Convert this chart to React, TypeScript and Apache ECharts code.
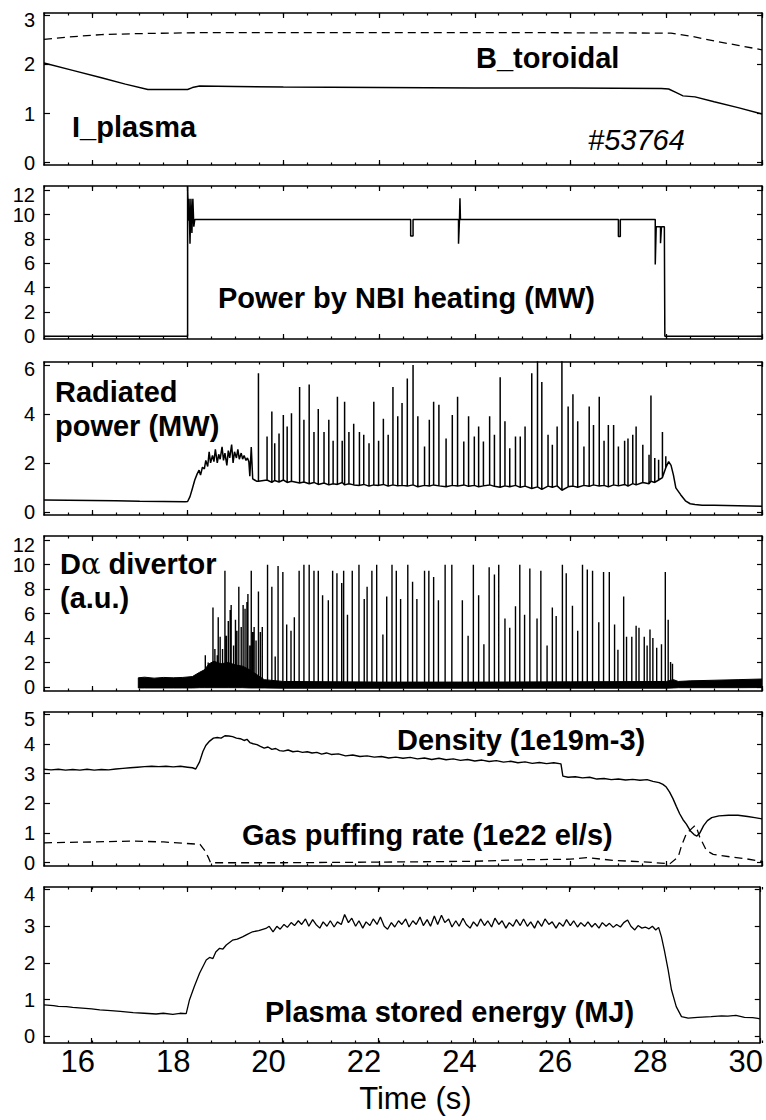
import { useEffect, useRef } from 'react';
import * as echarts from 'echarts';

type Pt = [number, number];

const FONT = '"Liberation Sans", Arial, Helvetica, sans-serif';
const T_MIN = 15;
const T_MAX = 30;
const timeTicks = [16, 18, 20, 22, 24, 26, 28, 30];

// ---- panel 1: plasma current and toroidal field ----
const plasmaCurrent: Pt[] = [
  [15.0, 2.03], [15.6, 1.88], [16.2, 1.73], [16.7, 1.6], [17.17, 1.49], [18.0, 1.49],
  [18.1, 1.53], [18.25, 1.56], [19.0, 1.55], [20.0, 1.54], [22.0, 1.53], [24.0, 1.52],
  [26.0, 1.52], [27.9, 1.51], [28.05, 1.5], [28.2, 1.43], [28.35, 1.36], [28.6, 1.34],
  [29.0, 1.24], [29.5, 1.12], [30.0, 0.99],
];
const toroidalField: Pt[] = [
  [15.0, 2.51], [15.5, 2.56], [16.2, 2.61], [17.0, 2.63], [18.3, 2.65], [20.0, 2.65],
  [25.0, 2.65], [28.1, 2.64], [28.5, 2.58], [29.0, 2.48], [29.5, 2.39], [30.0, 2.3],
];

// ---- panel 2: NBI heating power ----
const nbiPower: Pt[] = [
  [15.0, 0], [18.0, 0], [18.0, 12.3], [18.02, 9.5], [18.03, 11.3], [18.05, 7.6],
  [18.07, 11.3], [18.09, 8.5], [18.11, 11.3], [18.13, 9.0], [18.15, 9.6], [22.66, 9.6],
  [22.66, 8.25], [22.71, 8.25], [22.71, 9.6], [23.66, 9.6], [23.66, 7.6], [23.68, 9.6],
  [23.69, 11.35], [23.7, 9.6], [27.0, 9.6], [27.0, 8.2], [27.04, 8.2], [27.04, 9.6],
  [27.77, 9.6], [27.77, 5.9], [27.79, 9.0], [27.88, 9.0], [27.88, 7.65], [27.9, 9.0],
  [27.96, 9.0], [27.97, 0], [30.0, 0],
];

// ---- panel 3: radiated power ----
const radiatedBefore: Pt[] = [
  [15.0, 0.48], [15.5, 0.47], [16.0, 0.46], [16.5, 0.45], [17.0, 0.43], [17.5, 0.42],
  [17.95, 0.41], [18.0, 0.42], [18.05, 0.62], [18.1, 0.95], [18.15, 1.3], [18.2, 1.55],
  [18.24, 1.7], [18.27, 1.5], [18.31, 1.82], [18.35, 1.75], [18.38, 2.1], [18.42, 1.85],
  [18.45, 2.45], [18.48, 2.0], [18.52, 2.3], [18.55, 2.05], [18.58, 2.55], [18.62, 2.0],
  [18.65, 2.35], [18.68, 2.15], [18.72, 2.65], [18.75, 2.1], [18.78, 2.4], [18.82, 1.9],
  [18.85, 2.5], [18.88, 2.2], [18.92, 2.75], [18.95, 2.0], [18.98, 2.45], [19.02, 2.2],
  [19.05, 2.55], [19.08, 2.15], [19.12, 2.4], [19.15, 2.15], [19.18, 2.3], [19.22, 2.1],
  [19.25, 2.2], [19.28, 2.05], [19.3, 1.45], [19.33, 2.65], [19.36, 1.35], [19.4, 1.3],
  [19.44, 1.25],
];
const radiatedSpikeTimes = [
  19.48, 19.66, 19.76, 19.82, 19.91, 20.0, 20.08, 20.17, 20.34, 20.43,
  20.54, 20.64, 20.73, 20.85, 20.95, 21.04, 21.13, 21.23, 21.28, 21.37,
  21.47, 21.59, 21.68, 21.79, 21.89, 21.99, 22.09, 22.19, 22.29, 22.39,
  22.48, 22.59, 22.71, 22.81, 22.95, 23.05, 23.14, 23.25, 23.4, 23.53,
  23.64, 23.77, 23.87, 23.99, 24.08, 24.18, 24.31, 24.41, 24.53, 24.63,
  24.73, 24.85, 24.95, 25.05, 25.19, 25.31, 25.4, 25.53, 25.62, 25.72,
  25.82, 25.95, 26.05, 26.15, 26.28, 26.39, 26.48, 26.6, 26.7, 26.79,
  26.9, 27.0, 27.13, 27.2, 27.3, 27.37, 27.51, 27.64, 27.68, 27.76,
  27.84, 27.92, 27.99,
];
const radiatedSpikePeaks = [
  5.66, 3.08, 4.1, 2.8, 3.2, 3.96, 3.49, 4.03, 5.1, 3.76,
  5.2, 3.26, 4.2, 3.26, 3.76, 2.9, 4.7, 2.9, 4.5, 3.26,
  3.6, 3.26, 3.15, 2.8, 4.5, 2.9, 3.8, 3.15, 5.1, 3.9,
  4.45, 5.45, 6.0, 3.9, 2.67, 3.76, 4.5, 4.37, 3.0, 3.96,
  4.7, 2.87, 3.9, 3.08, 3.49, 2.87, 3.9, 3.15, 5.5, 3.7,
  2.6, 3.08, 3.08, 3.49, 5.66, 6.3, 5.3, 3.15, 2.74, 3.49,
  6.3, 4.3, 4.8, 3.7, 2.67, 4.3, 3.55, 4.7, 2.9, 3.55,
  3.55, 2.67, 2.9, 3.0, 3.15, 3.49, 2.74, 2.33, 4.75, 2.2,
  2.13, 3.26, 2.27,
];
const radiatedTroughs = [
  1.25, 1.3, 1.2, 1.28, 1.22, 1.3, 1.2, 1.25, 1.18, 1.22,
  1.15, 1.2, 1.12, 1.18, 1.1, 1.15, 1.12, 1.2, 1.1, 1.15,
  1.1, 1.08, 1.12, 1.05, 1.1, 1.08, 1.12, 1.05, 1.1, 1.06,
  1.08, 1.05, 1.1, 1.02, 1.08, 1.05, 1.1, 1.06, 1.02, 1.08,
  1.05, 1.1, 1.04, 1.08, 1.02, 1.06, 1.1, 1.04, 1.0, 1.06,
  1.02, 1.08, 1.0, 1.05, 0.95, 1.02, 0.92, 1.05, 1.0, 1.06,
  0.88, 1.02, 1.05, 1.0, 1.08, 1.04, 1.1, 1.05, 1.08, 1.02,
  1.1, 1.06, 1.12, 1.05, 1.15, 1.1, 1.2, 1.15, 1.25, 1.2,
  1.3, 1.4, 1.8,
];
const radiatedAfter: Pt[] = [
  [28.05, 2.05], [28.1, 1.9], [28.15, 1.5], [28.2, 0.98], [28.3, 0.7], [28.4, 0.45],
  [28.5, 0.33], [28.6, 0.3], [28.75, 0.27], [29.0, 0.27], [29.5, 0.25], [30.0, 0.23],
];

// ---- panel 4: D-alpha divertor ----
const dalphaBandTimes = [
  16.97, 17.1, 17.3, 17.5, 17.7, 17.9, 18.1, 18.25, 18.35, 18.45, 18.55, 18.7, 18.85,
  19.0, 19.15, 19.3, 19.45, 19.6, 20.0, 22.0, 24.0, 26.0, 28.0, 28.15, 28.25, 28.5,
  29.0, 29.5, 30.0,
];
const dalphaBandLow = [
  -0.08, -0.08, -0.08, -0.08, -0.08, -0.08, -0.08, -0.06, -0.06, -0.06, -0.06, -0.06, -0.06,
  -0.06, -0.06, -0.08, -0.08, -0.08, -0.1, -0.1, -0.1, -0.1, -0.1, -0.08, -0.06, -0.06,
  -0.06, -0.06, -0.05,
];
const dalphaBandHigh = [
  0.75, 0.8, 0.72, 0.78, 0.75, 0.78, 0.85, 1.2, 1.4, 1.9, 2.1, 1.9, 2.0,
  1.8, 1.7, 1.4, 1.0, 0.6, 0.45, 0.4, 0.4, 0.42, 0.45, 0.6, 0.45, 0.5,
  0.55, 0.6, 0.65,
];
const dalphaSpikeBase = 0.15;
const dalphaSpikeTimes = [
  18.37, 18.43, 18.47, 18.53, 18.57, 18.62, 18.64, 18.68, 18.73, 18.78,
  18.81, 18.85, 18.89, 18.91, 18.96, 19.0, 19.03, 19.07, 19.12, 19.16,
  19.2, 19.24, 19.26, 19.3, 19.33, 19.36, 19.39, 19.43, 19.48, 19.52, 19.56,
  19.67, 19.76, 19.83, 19.89, 19.99, 20.07, 20.16, 20.23, 20.33, 20.43,
  20.54, 20.64, 20.73, 20.82, 20.94, 21.03, 21.12, 21.22, 21.26, 21.34,
  21.44, 21.58, 21.69, 21.75, 21.85, 21.95, 22.08, 22.16, 22.27, 22.36,
  22.45, 22.6, 22.7, 22.79, 22.95, 23.04, 23.14, 23.24, 23.38, 23.52,
  23.74, 23.86, 23.97, 24.08, 24.19, 24.3, 24.41, 24.5, 24.63, 24.73,
  24.85, 24.94, 25.04, 25.15, 25.3, 25.38, 25.51, 25.62, 25.7, 25.83,
  25.91, 26.04, 26.15, 26.25, 26.35, 26.46, 26.59, 26.69, 26.81, 26.92,
  26.99, 27.11, 27.17, 27.28, 27.37, 27.43, 27.54, 27.6, 27.66, 27.72,
  27.8, 27.9, 27.98, 28.04, 28.09, 28.13,
];
const dalphaSpikePeaks = [
  2.6, 2.0, 1.8, 6.5, 3.1, 2.6, 5.7, 4.1, 3.1, 9.5,
  4.2, 5.4, 6.3, 6.7, 3.4, 5.5, 4.6, 8.2, 4.9, 6.7,
  6.4, 6.95, 7.6, 3.4, 9.5, 4.5, 4.9, 3.8, 7.8, 4.5, 4.9,
  10.0, 8.2, 2.5, 9.9, 9.4, 5.1, 4.6, 5.7, 9.5, 10.0,
  10.0, 9.5, 9.5, 7.5, 7.1, 9.5, 9.3, 8.5, 9.5, 5.9,
  9.5, 10.0, 7.2, 8.2, 9.5, 10.0, 4.3, 7.4, 10.0, 9.5,
  7.2, 10.0, 8.6, 7.2, 9.5, 9.5, 9.0, 7.1, 10.0, 10.0,
  7.1, 4.2, 10.0, 7.5, 3.5, 9.8, 9.2, 10.0, 5.6, 4.85,
  6.6, 10.0, 5.9, 9.7, 5.6, 9.5, 3.4, 6.5, 5.8, 10.0,
  9.3, 6.65, 4.6, 10.0, 9.6, 9.5, 5.3, 9.4, 9.4, 5.1,
  3.05, 7.4, 4.1, 4.1, 5.0, 4.85, 4.1, 3.4, 4.7, 4.0,
  3.2, 3.5, 9.4, 5.5, 2.05, 1.9,
];

// ---- panel 5: line density and gas puffing ----
const density: Pt[] = [
  [15.0, 3.15], [15.15, 3.13], [15.3, 3.15], [15.45, 3.12], [15.6, 3.14], [15.75, 3.12],
  [15.9, 3.15], [16.05, 3.12], [16.2, 3.14], [16.35, 3.13], [16.5, 3.16], [16.65, 3.18],
  [16.8, 3.2], [16.95, 3.22], [17.1, 3.24], [17.25, 3.25], [17.4, 3.24], [17.55, 3.25],
  [17.7, 3.23], [17.85, 3.25], [18.0, 3.22], [18.1, 3.2], [18.17, 3.16], [18.25, 3.4],
  [18.32, 3.75], [18.38, 3.95], [18.46, 4.1], [18.54, 4.2], [18.62, 4.22], [18.7, 4.2],
  [18.78, 4.28], [18.86, 4.27], [18.94, 4.25], [19.02, 4.2], [19.1, 4.18], [19.18, 4.12],
  [19.24, 4.16], [19.3, 4.05], [19.37, 4.01], [19.45, 3.98], [19.52, 3.92], [19.6, 3.86],
  [19.68, 3.9], [19.76, 3.82], [19.84, 3.85], [19.92, 3.78], [20.0, 3.76], [20.1, 3.8],
  [20.2, 3.74], [20.3, 3.76], [20.4, 3.72], [20.5, 3.74], [20.6, 3.7], [20.7, 3.72],
  [20.8, 3.66], [20.9, 3.7], [21.0, 3.65], [21.15, 3.67], [21.3, 3.6], [21.45, 3.63],
  [21.6, 3.58], [21.75, 3.6], [21.9, 3.56], [22.05, 3.58], [22.2, 3.53], [22.35, 3.56],
  [22.5, 3.52], [22.65, 3.55], [22.8, 3.5], [22.95, 3.53], [23.1, 3.48], [23.25, 3.52],
  [23.4, 3.47], [23.55, 3.5], [23.7, 3.45], [23.85, 3.48], [24.0, 3.43], [24.15, 3.46],
  [24.3, 3.41], [24.45, 3.44], [24.6, 3.39], [24.75, 3.42], [24.9, 3.37], [25.05, 3.4],
  [25.2, 3.35], [25.35, 3.38], [25.5, 3.34], [25.65, 3.37], [25.8, 3.33], [25.84, 2.92],
  [25.95, 2.88], [26.1, 2.9], [26.25, 2.86], [26.4, 2.88], [26.55, 2.82], [26.7, 2.84],
  [26.85, 2.8], [27.0, 2.82], [27.15, 2.79], [27.3, 2.81], [27.45, 2.78], [27.6, 2.8],
  [27.72, 2.74], [27.85, 2.7], [27.93, 2.64], [28.0, 2.55], [28.07, 2.38], [28.14, 2.16],
  [28.21, 1.9], [28.28, 1.65], [28.35, 1.45], [28.42, 1.3], [28.5, 1.08], [28.58, 0.95],
  [28.64, 0.9], [28.7, 1.0], [28.78, 1.25], [28.86, 1.42], [28.95, 1.52], [29.1, 1.58],
  [29.3, 1.6], [29.5, 1.6], [29.7, 1.56], [29.85, 1.52], [30.0, 1.48],
];
const gasPuff: Pt[] = [
  [15.0, 0.67], [16.0, 0.7], [16.9, 0.73], [17.5, 0.7], [18.26, 0.62], [18.36, 0.41],
  [18.43, 0.19], [18.48, 0.0], [20.0, 0.0], [22.0, 0.02], [24.0, 0.05], [25.0, 0.1],
  [26.0, 0.12], [26.34, 0.17], [26.9, 0.08], [27.5, 0.03], [28.08, -0.03], [28.25, 0.2],
  [28.32, 0.58], [28.42, 0.98], [28.53, 1.15], [28.6, 1.25], [28.65, 1.1], [28.7, 0.86],
  [28.84, 0.41], [28.98, 0.28], [29.33, 0.2], [29.68, 0.13], [29.96, 0.05], [30.0, 0.05],
];

// ---- panel 6: plasma stored energy ----
const storedEnergy: Pt[] = [
  [15.0, 0.86], [15.2, 0.84], [15.3, 0.82], [15.47, 0.81], [15.6, 0.79], [15.8, 0.77],
  [16.0, 0.75], [16.17, 0.72], [16.4, 0.7], [16.6, 0.68], [16.87, 0.65], [17.1, 0.63],
  [17.35, 0.61], [17.5, 0.63], [17.7, 0.6], [17.85, 0.63], [17.98, 0.62], [18.05, 1.0],
  [18.15, 1.36], [18.26, 1.72], [18.4, 2.08], [18.47, 2.15], [18.54, 2.12], [18.6, 2.3],
  [18.68, 2.4], [18.75, 2.38], [18.82, 2.49], [18.95, 2.62], [19.05, 2.65], [19.16, 2.71],
  [19.26, 2.78], [19.37, 2.85], [19.5, 2.88], [19.65, 2.94], [19.72, 3.0], [19.8, 2.85],
  [19.88, 3.0], [19.95, 2.92], [20.03, 3.05], [20.1, 2.97], [20.18, 3.1], [20.25, 3.02],
  [20.33, 3.15], [20.4, 3.05], [20.48, 3.2], [20.55, 3.0], [20.63, 3.18], [20.7, 3.05],
  [20.78, 2.95], [20.85, 3.12], [20.93, 3.0], [21.0, 3.15], [21.08, 2.98], [21.15, 3.12],
  [21.23, 3.05], [21.3, 3.32], [21.38, 3.1], [21.45, 3.22], [21.53, 3.0], [21.6, 3.15],
  [21.68, 2.95], [21.75, 3.12], [21.83, 3.02], [21.9, 3.2], [21.98, 3.05], [22.05, 3.25],
  [22.13, 3.0], [22.2, 2.92], [22.28, 3.1], [22.35, 2.98], [22.43, 3.15], [22.5, 3.05],
  [22.58, 3.2], [22.65, 2.98], [22.73, 3.15], [22.8, 3.05], [22.88, 3.25], [22.95, 3.02],
  [23.03, 3.18], [23.1, 3.0], [23.18, 3.28], [23.25, 3.05], [23.33, 3.3], [23.4, 3.1],
  [23.48, 3.2], [23.55, 2.98], [23.63, 3.15], [23.7, 3.0], [23.78, 3.22], [23.85, 3.05],
  [23.93, 2.95], [24.0, 3.12], [24.08, 3.0], [24.15, 3.2], [24.23, 3.02], [24.3, 3.15],
  [24.38, 2.98], [24.45, 3.22], [24.53, 3.05], [24.6, 3.15], [24.68, 2.95], [24.75, 3.1],
  [24.83, 3.0], [24.9, 3.18], [24.98, 3.02], [25.05, 3.2], [25.13, 3.0], [25.2, 3.12],
  [25.28, 2.95], [25.35, 3.15], [25.43, 3.0], [25.5, 3.2], [25.58, 3.05], [25.65, 3.12],
  [25.73, 2.95], [25.8, 3.1], [25.88, 3.0], [25.95, 3.18], [26.03, 3.02], [26.1, 3.15],
  [26.18, 2.98], [26.25, 3.1], [26.33, 3.0], [26.4, 3.12], [26.48, 2.98], [26.55, 3.08],
  [26.63, 2.95], [26.7, 3.1], [26.78, 3.0], [26.85, 3.08], [26.93, 2.97], [27.0, 3.05],
  [27.08, 2.98], [27.15, 3.1], [27.23, 3.17], [27.3, 3.0], [27.38, 2.9], [27.45, 3.02],
  [27.53, 2.95], [27.6, 2.98], [27.68, 2.93], [27.75, 3.0], [27.82, 2.9], [27.88, 2.97],
  [27.94, 2.71], [28.0, 2.35], [28.08, 1.81], [28.15, 1.27], [28.25, 0.81], [28.36, 0.54],
  [28.5, 0.5], [28.7, 0.52], [28.98, 0.54], [29.2, 0.56], [29.33, 0.55], [29.5, 0.57],
  [29.68, 0.52], [29.85, 0.51], [29.96, 0.49], [30.0, 0.48],
];

// Frame of each stacked panel and its vertical scale
const panelLayout = [
  { top: 13, height: 152, yMin: -0.05, yMax: 3.05, yTicks: [0, 1, 2, 3] },
  { top: 186, height: 153, yMin: -0.22, yMax: 12.35, yTicks: [0, 2, 4, 6, 8, 10, 12] },
  { top: 362, height: 153, yMin: -0.13, yMax: 6.12, yTicks: [0, 2, 4, 6] },
  { top: 536, height: 155, yMin: -0.33, yMax: 12.35, yTicks: [0, 2, 4, 6, 8, 10, 12] },
  { top: 712, height: 154, yMin: -0.11, yMax: 5.08, yTicks: [0, 1, 2, 3, 4, 5] },
  { top: 887, height: 156, yMin: -0.18, yMax: 4.07, yTicks: [0, 1, 2, 3, 4] },
];

const annotations = [
  { text: 'B_toroidal', x: 476, y: 58 },
  { text: 'I_plasma', x: 72, y: 127 },
  { text: '#53764', x: 588, y: 140, italic: true },
  { text: 'Power by NBI heating (MW)', x: 218, y: 298 },
  { text: 'Radiated', x: 55, y: 392 },
  { text: 'power (MW)', x: 55, y: 426 },
  { text: 'D{a|α} divertor', x: 60, y: 564 },
  { text: '(a.u.)', x: 60, y: 598 },
  { text: 'Density (1e19m-3)', x: 397, y: 740 },
  { text: 'Gas puffing rate (1e22 el/s)', x: 242, y: 835 },
  { text: 'Plasma stored energy (MJ)', x: 265, y: 1012 },
];

function spikeLine(times: number[], peaks: number[], base: (i: number) => number): Pt[] {
  const out: Pt[] = [];
  times.forEach((t, i) => {
    out.push([t, base(i)], [t, peaks[i]], [t, base(i)]);
  });
  return out;
}

function buildOption() {
  const black = '#000';
  const axisLine = { show: true, onZero: false, lineStyle: { color: black, width: 1.5 } };
  const tickStyle = { color: black, width: 1.2 };
  const grid: any[] = [];
  const xAxis: any[] = [];
  const yAxis: any[] = [];
  const last = panelLayout.length - 1;

  panelLayout.forEach((p) => grid.push({ left: 44, right: 4, top: p.top, height: p.height }));
  panelLayout.forEach((p) => grid.push({ left: 44, right: 4, top: p.top, height: p.height }));

  panelLayout.forEach((p, i) => {
    const topTick = p.yTicks[p.yTicks.length - 1];
    xAxis.push({
      type: 'value', gridIndex: i, position: 'bottom', min: T_MIN, max: T_MAX,
      axisLine, splitLine: { show: false },
      axisTick: { show: true, inside: true, length: 5, customValues: timeTicks, lineStyle: tickStyle },
      axisLabel: i === last
        ? {
            show: true, customValues: timeTicks, fontSize: 31, fontFamily: FONT, color: black, margin: 3,
            formatter: (v: number) => `{v|${v}}`,
            rich: { v: { fontSize: 31, fontFamily: FONT, color: black, padding: [0, 28, 0, 0] } },
          }
        : { show: false },
      name: i === last ? '{n|Time (s)}' : '',
      nameLocation: 'middle', nameGap: 40,
      nameTextStyle: {
        fontSize: 31, fontFamily: FONT, color: black,
        rich: { n: { fontSize: 31, fontFamily: FONT, color: black, padding: [0, 0, 0, 27] } },
      },
    });
    xAxis.push({
      type: 'value', gridIndex: i, position: 'top', min: T_MIN, max: T_MAX,
      axisLine, splitLine: { show: false },
      axisTick: { show: true, inside: true, length: 5, customValues: timeTicks, lineStyle: tickStyle },
      axisLabel: { show: false },
    });
    yAxis.push({
      type: 'value', gridIndex: i, position: 'left', min: p.yMin, max: p.yMax,
      axisLine, splitLine: { show: false },
      axisTick: { show: true, inside: true, length: 6, customValues: p.yTicks, lineStyle: tickStyle },
      axisLabel: {
        show: true, customValues: p.yTicks, fontSize: 20, fontFamily: FONT, color: black, margin: 9,
        formatter: (v: number) => (v === topTick ? `{t|${v}}` : `${v}`),
        rich: { t: { padding: [9, 0, 0, 0], fontSize: 20, fontFamily: FONT, color: black } },
      },
    });
    yAxis.push({
      type: 'value', gridIndex: i, position: 'right', min: p.yMin, max: p.yMax,
      axisLine, splitLine: { show: false },
      axisTick: { show: true, inside: true, length: 5, customValues: p.yTicks, lineStyle: tickStyle },
      axisLabel: { show: false },
    });
  });

  // minor time ticks every 0.5 s, on overlay grids
  panelLayout.forEach((_, i) => {
    const g = panelLayout.length + i;
    ['bottom', 'top'].forEach((pos) => {
      xAxis.push({
        type: 'value', gridIndex: g, position: pos, min: T_MIN, max: T_MAX, interval: 0.5,
        axisLine: { show: false }, splitLine: { show: false },
        axisTick: { show: true, inside: true, length: 2.5, lineStyle: tickStyle },
        axisLabel: { show: false },
      });
    });
    yAxis.push({ type: 'value', gridIndex: g, show: false, min: 0, max: 1 });
  });

  const line = (panel: number, data: Pt[], style: any = {}) => ({
    type: 'line', xAxisIndex: panel * 2, yAxisIndex: panel * 2, data,
    showSymbol: false, symbol: 'none', silent: true, color: black,
    lineStyle: { color: black, width: 1.4, join: 'bevel', ...style },
  });
  const dashed = { type: [8, 5], width: 1.3 };

  const radiated: Pt[] = [
    ...radiatedBefore,
    ...spikeLine(radiatedSpikeTimes, radiatedSpikePeaks, (i) => radiatedTroughs[i]),
    ...radiatedAfter,
  ];
  const dalphaSpikes = spikeLine(dalphaSpikeTimes, dalphaSpikePeaks, () => dalphaSpikeBase);

  // dense noise floor of the D-alpha signal, drawn as a filled band
  const dalphaBand = {
    type: 'custom', xAxisIndex: 6, yAxisIndex: 6, silent: true, clip: true,
    data: [[dalphaBandTimes[0], dalphaBandLow[0]]],
    renderItem: (_params: any, api: any) => {
      const upper = dalphaBandTimes.map((t, i) => api.coord([t, dalphaBandHigh[i]]));
      const lower = dalphaBandTimes.map((t, i) => api.coord([t, dalphaBandLow[i]])).reverse();
      return {
        type: 'polygon',
        shape: { points: [...upper, ...lower] },
        style: { fill: black, stroke: black, lineWidth: 1 },
      };
    },
  };

  const series = [
    line(0, plasmaCurrent),
    line(0, toroidalField, dashed),
    line(1, nbiPower, { width: 1.5 }),
    line(2, radiated, { width: 1.5 }),
    dalphaBand,
    line(3, dalphaSpikes, { width: 1.4 }),
    line(4, density),
    line(4, gasPuff, dashed),
    line(5, storedEnergy, { width: 1.3 }),
  ];

  const graphic = annotations.map((a) => ({
    type: 'text', x: a.x, y: a.y, silent: true,
    style: {
      text: a.text, fill: black, fontFamily: FONT, fontSize: 29,
      fontWeight: a.italic ? 'normal' : 'bold', fontStyle: a.italic ? 'italic' : 'normal',
      align: 'left', verticalAlign: 'middle', textAlign: 'left', textVerticalAlign: 'middle',
      rich: { a: { fontFamily: '"DejaVu Serif", "Liberation Serif", serif', fontWeight: 'normal', fontSize: 29, fill: black } },
    },
  }));

  return {
    animation: false, backgroundColor: '#fff',
    grid, xAxis, yAxis, series, graphic,
  };
}

export default function App() {
  const ref = useRef<HTMLDivElement>(null);
  useEffect(() => {
    const chart = echarts.init(ref.current!, null, { renderer: 'svg' });
    chart.setOption(buildOption() as any);
    return () => chart.dispose();
  }, []);
  return (
    <div
      ref={ref}
      style={{ position: 'absolute', left: 0, top: 0, width: 766, height: 1120, background: '#fff' }}
    />
  );
}
